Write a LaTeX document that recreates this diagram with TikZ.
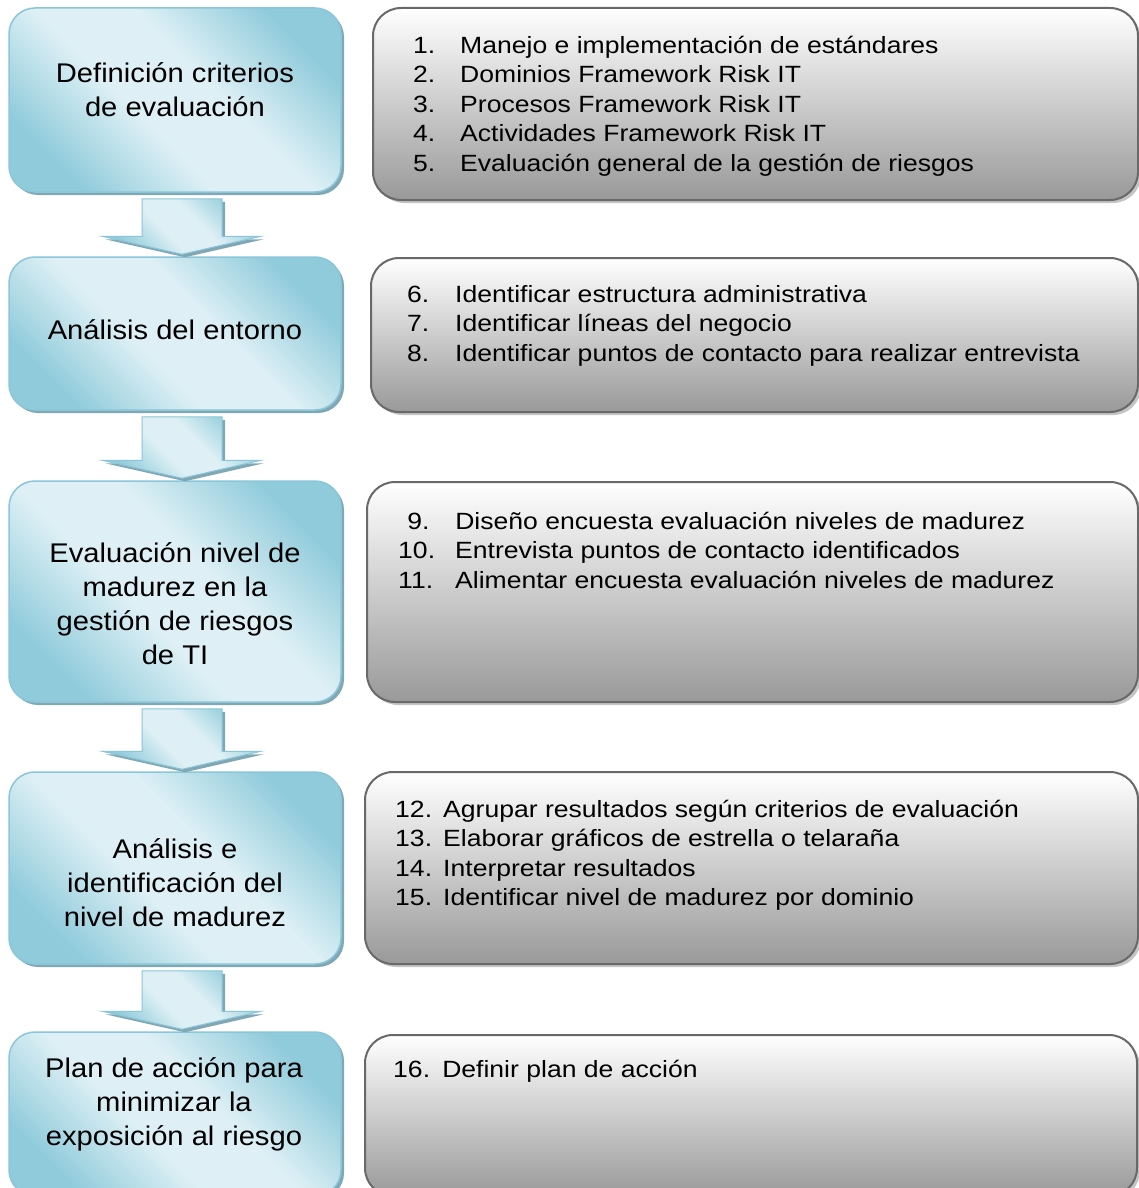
\documentclass[tikz,border=0pt]{standalone}
\usepackage{fontspec}
\setmainfont{Liberation Sans}
\usetikzlibrary{calc,shadows}

\definecolor{bluedark}{RGB}{144,203,219}
\definecolor{bluelight}{RGB}{222,240,245}
\definecolor{blueline}{RGB}{138,198,216}
\definecolor{blueshadow}{RGB}{128,168,180}
\definecolor{grayline}{RGB}{105,105,105}
\definecolor{grayshadow}{RGB}{196,196,196}
\definecolor{graybottom}{RGB}{153,153,153}

% diagonal band: dark corners, light middle
\pgfdeclareverticalshading{stageshade}{100bp}{%
  color(0bp)=(bluedark); color(25bp)=(bluedark); color(43bp)=(bluelight);
  color(57bp)=(bluelight); color(75bp)=(bluedark); color(100bp)=(bluedark)}

% struts fixing the top of the first text line
\newcommand\stagestrut{\rule{0pt}{27pt}}
\newcommand\taskstrut{\rule{0pt}{24pt}}

\tikzset{
  stagebox/.style={draw=blueline, line width=1.5pt, rounded corners=26pt,
    shade, shading=stageshade, shading angle=135, inner sep=0pt,
    drop shadow={shadow xshift=3pt, shadow yshift=-3pt, fill=blueshadow, opacity=1}},
  taskbox/.style={draw=grayline, line width=2pt, rounded corners=28pt,
    top color=white, bottom color=graybottom, inner sep=0pt,
    drop shadow={shadow xshift=3pt, shadow yshift=-3pt, fill=grayshadow, opacity=1}},
  arrowbody/.style={draw=blueline, line width=1pt,
    shade, shading=stageshade, shading angle=135,
    drop shadow={shadow xshift=3pt, shadow yshift=-3pt, fill=blueshadow, opacity=1}},
  stagetext/.style={font=\fontsize{27}{34}\selectfont, align=center,
    inner sep=0pt, xscale=1.08, anchor=north},
  tasktext/.style={font=\fontsize{23.5}{29.5}\selectfont, align=left,
    inner sep=0pt, xscale=1.13, anchor=north west},
}

% block arrow from the bottom of one stage box to the top of the next
\newcommand\stagearrow[2]{%
  \path[arrowbody] let \p1=(#1.south), \p2=(#2.north) in
    (\x1-33pt,\y1-6pt) -- (\x1+47pt,\y1-6pt) -- (\x1+47pt,\y2+20pt)
    -- (\x1+86pt,\y2+20pt) -- (\x1+7pt,\y2+2pt) -- (\x1-73pt,\y2+20pt)
    -- (\x1-33pt,\y2+20pt) -- cycle;}

\begin{document}
\begin{tikzpicture}[x=1pt,y=-1pt]
\useasboundingbox (0,0) rectangle (1139,1188);
\fill[white] (0,0) rectangle (1139,1188);
\clip (0,0) rectangle (1139,1188);

% stage boxes (left column)
\node[stagebox, minimum width=332pt, minimum height=184pt] (l1) at (175,100) {};
\node[stagebox, minimum width=332pt, minimum height=153pt] (l2) at (175,333.5) {};
\node[stagebox, minimum width=332pt, minimum height=221pt] (l3) at (175,591.5) {};
\node[stagebox, minimum width=332pt, minimum height=192pt] (l4) at (175,868) {};
\node[stagebox, minimum width=332pt, minimum height=164pt] (l5) at (175,1114) {};

% task boxes (right column)
\node[taskbox, minimum width=765pt, minimum height=192pt] (r1) at (755.5,104) {};
\node[taskbox, minimum width=767pt, minimum height=154pt] (r2) at (754.5,335) {};
\node[taskbox, minimum width=771pt, minimum height=220pt] (r3) at (752.5,592) {};
\node[taskbox, minimum width=773pt, minimum height=192pt] (r4) at (751.5,868) {};
\node[taskbox, minimum width=772pt, minimum height=161pt] (r5) at (751,1115.5) {};

% arrows between the stages
\stagearrow{l1}{l2}
\stagearrow{l2}{l3}
\stagearrow{l3}{l4}
\stagearrow{l4}{l5}

% stage titles
\node[stagetext] (t1) at (175,55) {\stagestrut Definición criterios\\de evaluación};
\node[stagetext] (t2) at (175,312) {\stagestrut Análisis del entorno};
\node[stagetext] (t3) at (175,535) {\stagestrut Evaluación nivel de\\madurez en la\\gestión de riesgos\\de TI};
\node[stagetext] (t4) at (175,831) {\stagestrut Análisis e\\identificación del\\nivel de madurez};
\node[stagetext] (t5) at (174,1050) {\stagestrut Plan de acción para\\minimizar la\\exposición al riesgo};

% task lists
\node[tasktext] (k1) at (413,29) {\taskstrut\makebox[41.6pt][l]{1.}Manejo e implementación de estándares\\
  \makebox[41.6pt][l]{2.}Dominios Framework Risk IT\\
  \makebox[41.6pt][l]{3.}Procesos Framework Risk IT\\
  \makebox[41.6pt][l]{4.}Actividades Framework Risk IT\\
  \makebox[41.6pt][l]{5.}Evaluación general de la gestión de riesgos};
\node[tasktext] (k2) at (407,278) {\taskstrut\makebox[42.5pt][l]{6.}Identificar estructura administrativa\\
  \makebox[42.5pt][l]{7.}Identificar líneas del negocio\\
  \makebox[42.5pt][l]{8.}Identificar puntos de contacto para realizar entrevista};
\node[tasktext] (k3) at (398,505) {\taskstrut\kern8pt\makebox[42.5pt][l]{9.}Diseño encuesta evaluación niveles de madurez\\
  \makebox[50.4pt][l]{10.}Entrevista puntos de contacto identificados\\
  \makebox[50.4pt][l]{11.}Alimentar encuesta evaluación niveles de madurez};
\node[tasktext] (k4) at (395,793) {\taskstrut\makebox[42.5pt][l]{12.}Agrupar resultados según criterios de evaluación\\
  \makebox[42.5pt][l]{13.}Elaborar gráficos de estrella o telaraña\\
  \makebox[42.5pt][l]{14.}Interpretar resultados\\
  \makebox[42.5pt][l]{15.}Identificar nivel de madurez por dominio};
\node[tasktext] (k5) at (393,1053) {\taskstrut\makebox[43.4pt][l]{16.}Definir plan de acción};
\end{tikzpicture}
\end{document}
